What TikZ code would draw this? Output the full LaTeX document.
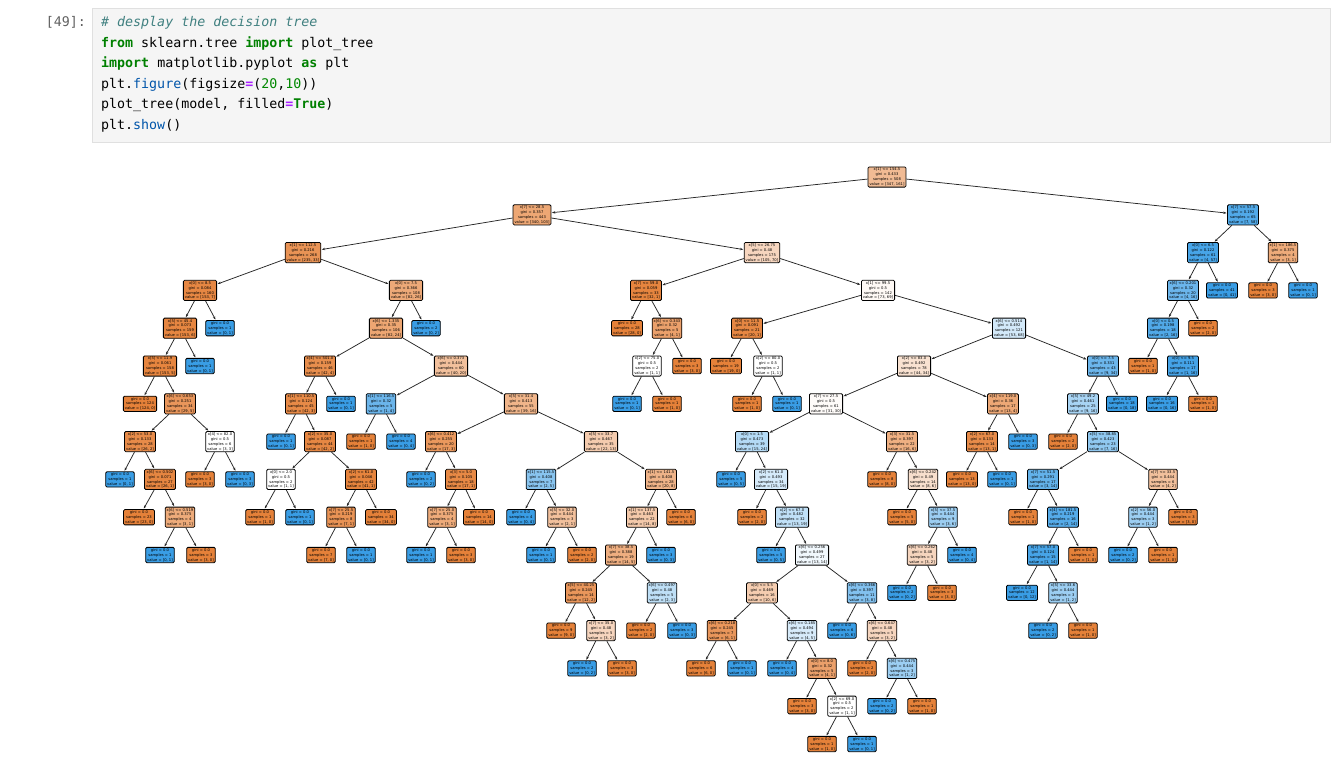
\documentclass[tikz,border=0pt]{standalone}
\usepackage{fontspec}
\usetikzlibrary{arrows.meta}
\newfontfamily\treefont{DejaVu Sans}
\newfontfamily\codefont{DejaVu Sans Mono}
\definecolor{cls0}{RGB}{229,129,57}
\definecolor{cls1}{RGB}{57,157,229}
\definecolor{cellbg}{HTML}{F5F5F5}
\definecolor{cellborder}{HTML}{E0E0E0}
\definecolor{kwcol}{HTML}{008000}
\definecolor{opcol}{HTML}{AA22FF}
\definecolor{cmcol}{HTML}{408080}
\definecolor{numcol}{HTML}{008800}
\definecolor{propcol}{HTML}{0055AA}
\definecolor{promptcol}{HTML}{616161}

% syntax colouring helpers for the code cell
\newcommand\kwd[1]{\textcolor{kwcol}{\bfseries #1}}
\newcommand\opr[1]{\textcolor{opcol}{\bfseries #1}}
\newcommand\nmb[1]{\textcolor{numcol}{#1}}
\newcommand\prp[1]{\textcolor{propcol}{#1}}

% fill colour of a tree node: majority class, lightened by purity
\newcommand\nodefill[2]{%
  \pgfmathtruncatemacro\tnpct{round(abs(#1-#2)/max(#1,#2)*100)}%
  \ifnum#1<#2\relax\colorlet{tnfillc}{cls1!\tnpct!white}%
  \else\colorlet{tnfillc}{cls0!\tnpct!white}\fi}
% split node: name, x, depth, condition, gini, samples, value a, value b
\newcommand\sn[8]{\nodefill{#7}{#8}%
  \node[tnode,fill=tnfillc] (#1) at (#2,{177+37.8*#3})
    {#4\\gini = #5\\samples = #6\\value = [#7, #8]};}
% leaf node: name, x, depth, samples, value a, value b
\newcommand\lf[6]{\nodefill{#5}{#6}%
  \node[tnode,fill=tnfillc] (#1) at (#2,{177+37.8*#3})
    {gini = 0.0\\samples = #4\\value = [#5, #6]};}

\begin{document}
\begin{tikzpicture}[x=1pt,y=-1pt,
  tnode/.style={draw=black, line width=0.8pt, rounded corners=1.2pt,
    font=\treefont\fontsize{3.7}{4.9}\selectfont, align=center,
    inner xsep=1.5pt, inner ysep=1.1pt, text=black},
  arr/.style={-{Stealth[length=3.3pt,width=2.4pt]}, line width=0.75pt,
    draw=black!85, shorten >=0.6pt},
  codeln/.style={anchor=base west, inner sep=0pt,
    font=\codefont\fontsize{13.3}{16}\selectfont}]
\useasboundingbox (0,0) rectangle (1342,779);
\fill[white] (0,0) rectangle (1342,779);

% ---- code cell ----
\node[anchor=base east, inner sep=0pt, text=promptcol,
  font=\codefont\fontsize{13.3}{16}\selectfont] (prompt) at (86,26.5) {[49]:};
\filldraw[fill=cellbg, draw=cellborder, line width=0.8pt] (92,8) rectangle (1330,142);
\node[codeln] (l1) at (101,26.5) {\textcolor{cmcol}{\itshape\# desplay the decision tree}};
\node[codeln] (l2) at (101,47.1) {\kwd{from} sklearn.tree \kwd{import} plot\_tree};
\node[codeln] (l3) at (101,67.7) {\kwd{import} matplotlib.pyplot \kwd{as} plt};
\node[codeln] (l4) at (101,88.3) {plt.\prp{figure}(figsize\opr{=}(\nmb{20},\nmb{10}))};
\node[codeln] (l5) at (101,108.9) {plot\_tree(model, filled\opr{=}\kwd{True})};
\node[codeln] (l6) at (101,129.5) {plt.\prp{show}()};

% ---- decision tree ----
% depth 0-2
\sn{n0}{887}{0}{x[1] <= 154.5}{0.433}{508}{347}{161}
\sn{n1}{532}{1}{x[7] <= 28.5}{0.357}{443}{340}{103}
\sn{n2}{1243}{1}{x[7] <= 57.5}{0.192}{65}{7}{58}
\sn{n3}{303}{2}{x[1] <= 112.5}{0.216}{268}{235}{33}
\sn{n4}{762}{2}{x[5] <= 26.75}{0.48}{175}{105}{70}
\sn{n5}{1203}{2}{x[0] <= 6.5}{0.122}{61}{4}{57}
\sn{n6}{1283}{2}{x[1] <= 186.5}{0.375}{4}{3}{1}
% depth 3
\sn{n7}{200}{3}{x[0] <= 8.5}{0.084}{160}{153}{7}
\sn{n8}{406}{3}{x[0] <= 7.5}{0.366}{108}{82}{26}
\sn{n9}{646}{3}{x[7] <= 59.0}{0.059}{33}{32}{1}
\sn{n10}{878}{3}{x[1] <= 99.5}{0.5}{142}{73}{69}
\sn{n11}{1183}{3}{x[6] <= 0.201}{0.32}{20}{4}{16}
\lf{n12}{1222}{3}{41}{0}{41}
\lf{n13}{1263}{3}{3}{3}{0}
\lf{n14}{1303}{3}{1}{0}{1}
% depth 4
\sn{n15}{180}{4}{x[5] <= 45.4}{0.073}{159}{153}{6}
\lf{n16}{220}{4}{1}{0}{1}
\sn{n17}{386}{4}{x[6] <= 1.335}{0.35}{106}{82}{24}
\lf{n18}{426}{4}{2}{0}{2}
\lf{n19}{627}{4}{28}{28}{0}
\sn{n20}{667}{4}{x[6] <= 0.343}{0.32}{5}{4}{1}
\sn{n21}{747}{4}{x[0] <= 11.5}{0.091}{21}{20}{1}
\sn{n22}{1009}{4}{x[6] <= 0.514}{0.492}{121}{53}{68}
\sn{n23}{1163}{4}{x[0] <= 0.5}{0.198}{18}{2}{16}
\lf{n24}{1203}{4}{2}{2}{0}
% depth 5
\sn{n25}{160}{5}{x[5] <= 11.9}{0.061}{158}{153}{5}
\lf{n26}{200}{5}{1}{0}{1}
\sn{n27}{320}{5}{x[4] <= 501.0}{0.159}{46}{42}{4}
\sn{n28}{451}{5}{x[6] <= 0.373}{0.444}{60}{40}{20}
\sn{n29}{647}{5}{x[2] <= 75.0}{0.5}{2}{1}{1}
\lf{n30}{687}{5}{3}{3}{0}
\lf{n31}{726}{5}{19}{19}{0}
\sn{n32}{768}{5}{x[2] <= 80.0}{0.5}{2}{1}{1}
\sn{n33}{914}{5}{x[2] <= 83.0}{0.492}{78}{44}{34}
\sn{n34}{1103}{5}{x[0] <= 7.5}{0.331}{43}{9}{34}
\lf{n35}{1143}{5}{1}{1}{0}
\sn{n36}{1183}{5}{x[0] <= 9.5}{0.111}{17}{1}{16}
% depth 6
\lf{n37}{140}{6}{124}{124}{0}
\sn{n38}{180}{6}{x[6] <= 0.653}{0.251}{34}{29}{5}
\sn{n39}{301}{6}{x[1] <= 110.5}{0.124}{45}{42}{3}
\lf{n40}{341}{6}{1}{0}{1}
\sn{n41}{381}{6}{x[1] <= 116.5}{0.32}{5}{1}{4}
\sn{n42}{521}{6}{x[5] <= 31.4}{0.413}{55}{39}{16}
\lf{n43}{627}{6}{1}{0}{1}
\lf{n44}{667}{6}{1}{1}{0}
\lf{n45}{747}{6}{1}{1}{0}
\lf{n46}{787}{6}{1}{0}{1}
\sn{n47}{826}{6}{x[7] <= 27.5}{0.5}{61}{31}{30}
\sn{n48}{1003}{6}{x[4] <= 119.0}{0.36}{17}{13}{4}
\sn{n49}{1083}{6}{x[5] <= 49.2}{0.461}{25}{9}{16}
\lf{n50}{1122}{6}{18}{0}{18}
\lf{n51}{1162}{6}{16}{0}{16}
\lf{n52}{1203}{6}{1}{1}{0}
% depth 7
\sn{n53}{140}{7}{x[2] <= 53.0}{0.133}{28}{26}{2}
\sn{n54}{220}{7}{x[4] <= 82.0}{0.5}{6}{3}{3}
\lf{n55}{281}{7}{1}{0}{1}
\sn{n56}{320}{7}{x[2] <= 35.0}{0.087}{44}{42}{2}
\lf{n57}{361}{7}{1}{1}{0}
\lf{n58}{401}{7}{4}{0}{4}
\sn{n59}{441}{7}{x[6] <= 0.412}{0.255}{20}{17}{3}
\sn{n60}{601}{7}{x[5] <= 33.7}{0.467}{35}{22}{13}
\sn{n61}{752}{7}{x[0] <= 1.5}{0.473}{39}{15}{24}
\sn{n62}{902}{7}{x[3] <= 31.5}{0.397}{22}{16}{6}
\sn{n63}{982}{7}{x[2] <= 67.0}{0.133}{14}{13}{1}
\lf{n64}{1023}{7}{3}{0}{3}
\lf{n65}{1063}{7}{2}{2}{0}
\sn{n66}{1103}{7}{x[5] <= 38.85}{0.423}{23}{7}{16}
% depth 8
\lf{n67}{120}{8}{1}{0}{1}
\sn{n68}{160}{8}{x[6] <= 0.502}{0.071}{27}{26}{1}
\lf{n69}{200}{8}{3}{3}{0}
\lf{n70}{240}{8}{3}{0}{3}
\sn{n71}{281}{8}{x[0] <= 2.0}{0.5}{2}{1}{1}
\sn{n72}{361}{8}{x[2] <= 61.0}{0.046}{42}{41}{1}
\lf{n73}{421}{8}{2}{0}{2}
\sn{n74}{461}{8}{x[3] <= 5.0}{0.105}{18}{17}{1}
\sn{n75}{541}{8}{x[1] <= 115.5}{0.408}{7}{2}{5}
\sn{n76}{661}{8}{x[1] <= 141.5}{0.408}{28}{20}{8}
\lf{n77}{731}{8}{5}{0}{5}
\sn{n78}{771}{8}{x[2] <= 61.0}{0.493}{34}{15}{19}
\lf{n79}{882}{8}{8}{8}{0}
\sn{n80}{923}{8}{x[6] <= 0.242}{0.49}{14}{8}{6}
\lf{n81}{962}{8}{13}{13}{0}
\lf{n82}{1002}{8}{1}{0}{1}
\sn{n83}{1043}{8}{x[7] <= 51.5}{0.291}{17}{3}{14}
\sn{n84}{1163}{8}{x[7] <= 33.5}{0.444}{6}{4}{2}
% depth 9
\lf{n85}{139}{9}{23}{23}{0}
\sn{n86}{180}{9}{x[6] <= 0.519}{0.375}{4}{3}{1}
\lf{n87}{260}{9}{1}{1}{0}
\lf{n88}{300}{9}{1}{0}{1}
\sn{n89}{341}{9}{x[7] <= 25.5}{0.219}{8}{7}{1}
\lf{n90}{381}{9}{34}{34}{0}
\sn{n91}{442}{9}{x[7] <= 25.0}{0.375}{4}{3}{1}
\lf{n92}{479}{9}{14}{14}{0}
\lf{n93}{521}{9}{4}{0}{4}
\sn{n94}{562}{9}{x[5] <= 32.0}{0.444}{3}{2}{1}
\sn{n95}{642}{9}{x[1] <= 137.5}{0.463}{22}{14}{8}
\lf{n96}{681}{9}{6}{6}{0}
\lf{n97}{752}{9}{2}{2}{0}
\sn{n98}{792}{9}{x[2] <= 67.0}{0.482}{32}{13}{19}
\lf{n99}{902}{9}{5}{5}{0}
\sn{n100}{943}{9}{x[5] <= 37.5}{0.444}{9}{3}{6}
\lf{n101}{1023}{9}{1}{1}{0}
\sn{n102}{1063}{9}{x[4] <= 181.5}{0.219}{16}{2}{14}
\sn{n103}{1143}{9}{x[2] <= 56.0}{0.444}{3}{1}{2}
\lf{n104}{1183}{9}{3}{3}{0}
% depth 10
\lf{n105}{160}{10}{1}{0}{1}
\lf{n106}{201}{10}{3}{3}{0}
\lf{n107}{321}{10}{7}{7}{0}
\lf{n108}{361}{10}{1}{0}{1}
\lf{n109}{421}{10}{1}{0}{1}
\lf{n110}{461}{10}{3}{3}{0}
\lf{n111}{541}{10}{1}{0}{1}
\lf{n112}{582}{10}{2}{2}{0}
\sn{n113}{621}{10}{x[7] <= 38.5}{0.388}{19}{14}{5}
\lf{n114}{661}{10}{3}{0}{3}
\lf{n115}{771}{10}{5}{0}{5}
\sn{n116}{812}{10}{x[6] <= 0.256}{0.499}{27}{13}{14}
\sn{n117}{922}{10}{x[6] <= 0.262}{0.48}{5}{3}{2}
\lf{n118}{962}{10}{4}{0}{4}
\sn{n119}{1043}{10}{x[7] <= 57.0}{0.124}{15}{1}{14}
\lf{n120}{1083}{10}{1}{1}{0}
\lf{n121}{1123}{10}{2}{0}{2}
\lf{n122}{1163}{10}{1}{1}{0}
% depth 11
\sn{n123}{581}{11}{x[5] <= 40.25}{0.245}{14}{12}{2}
\sn{n124}{662}{11}{x[6] <= 0.497}{0.48}{5}{2}{3}
\sn{n125}{762}{11}{x[0] <= 5.5}{0.469}{16}{10}{6}
\sn{n126}{862}{11}{x[6] <= 0.366}{0.397}{11}{3}{8}
\lf{n127}{902}{11}{2}{0}{2}
\lf{n128}{942}{11}{3}{3}{0}
\lf{n129}{1022}{11}{12}{0}{12}
\sn{n130}{1063}{11}{x[5] <= 33.6}{0.444}{3}{1}{2}
% depth 12
\lf{n131}{561}{12}{9}{9}{0}
\sn{n132}{601}{12}{x[7] <= 35.0}{0.48}{5}{3}{2}
\lf{n133}{641}{12}{2}{2}{0}
\lf{n134}{682}{12}{3}{0}{3}
\sn{n135}{722}{12}{x[6] <= 0.218}{0.245}{7}{6}{1}
\sn{n136}{802}{12}{x[6] <= 0.185}{0.494}{9}{4}{5}
\lf{n137}{842}{12}{6}{0}{6}
\sn{n138}{882}{12}{x[6] <= 0.647}{0.48}{5}{3}{2}
\lf{n139}{1043}{12}{2}{0}{2}
\lf{n140}{1083}{12}{1}{1}{0}
% depth 13
\lf{n141}{582}{13}{2}{0}{2}
\lf{n142}{622}{13}{3}{3}{0}
\lf{n143}{701}{13}{6}{6}{0}
\lf{n144}{742}{13}{1}{0}{1}
\lf{n145}{782}{13}{4}{0}{4}
\sn{n146}{822}{13}{x[0] <= 8.0}{0.32}{5}{4}{1}
\lf{n147}{862}{13}{2}{2}{0}
\sn{n148}{902}{13}{x[6] <= 0.475}{0.444}{3}{1}{2}
% depth 14-15
\lf{n149}{802}{14}{3}{3}{0}
\sn{n150}{842}{14}{x[2] <= 69.0}{0.5}{2}{1}{1}
\lf{n151}{882}{14}{2}{0}{2}
\lf{n152}{922}{14}{1}{1}{0}
\lf{n153}{822}{15}{1}{1}{0}
\lf{n154}{862}{15}{1}{0}{1}

% ---- edges, parent to child ----
\foreach \p/\c in {n0/n1,n0/n2,n1/n3,n1/n4,n2/n5,n2/n6,n3/n7,n3/n8,n4/n9,n4/n10,
  n5/n11,n5/n12,n6/n13,n6/n14,n7/n15,n7/n16,n8/n17,n8/n18,n9/n19,n9/n20,
  n10/n21,n10/n22,n11/n23,n11/n24,n15/n25,n15/n26,n17/n27,n17/n28,n20/n29,n20/n30,
  n21/n31,n21/n32,n22/n33,n22/n34,n23/n35,n23/n36,n25/n37,n25/n38,n27/n39,n27/n40,
  n28/n41,n28/n42,n29/n43,n29/n44,n32/n45,n32/n46,n33/n47,n33/n48,n34/n49,n34/n50,
  n36/n51,n36/n52,n38/n53,n38/n54,n39/n55,n39/n56,n41/n57,n41/n58,n42/n59,n42/n60,
  n47/n61,n47/n62,n48/n63,n48/n64,n49/n65,n49/n66,n53/n67,n53/n68,n54/n69,n54/n70,
  n56/n71,n56/n72,n59/n73,n59/n74,n60/n75,n60/n76,n61/n77,n61/n78,n62/n79,n62/n80,
  n63/n81,n63/n82,n66/n83,n66/n84,n68/n85,n68/n86,n71/n87,n71/n88,n72/n89,n72/n90,
  n74/n91,n74/n92,n75/n93,n75/n94,n76/n95,n76/n96,n78/n97,n78/n98,n80/n99,n80/n100,
  n83/n101,n83/n102,n84/n103,n84/n104,n86/n105,n86/n106,n89/n107,n89/n108,
  n91/n109,n91/n110,n94/n111,n94/n112,n95/n113,n95/n114,n98/n115,n98/n116,
  n100/n117,n100/n118,n102/n119,n102/n120,n103/n121,n103/n122,n113/n123,n113/n124,
  n116/n125,n116/n126,n117/n127,n117/n128,n119/n129,n119/n130,n123/n131,n123/n132,
  n124/n133,n124/n134,n125/n135,n125/n136,n126/n137,n126/n138,n130/n139,n130/n140,
  n132/n141,n132/n142,n135/n143,n135/n144,n136/n145,n136/n146,n138/n147,n138/n148,
  n146/n149,n146/n150,n148/n151,n148/n152,n150/n153,n150/n154}
  \draw[arr] (\p) -- (\c);
\end{tikzpicture}
\end{document}
